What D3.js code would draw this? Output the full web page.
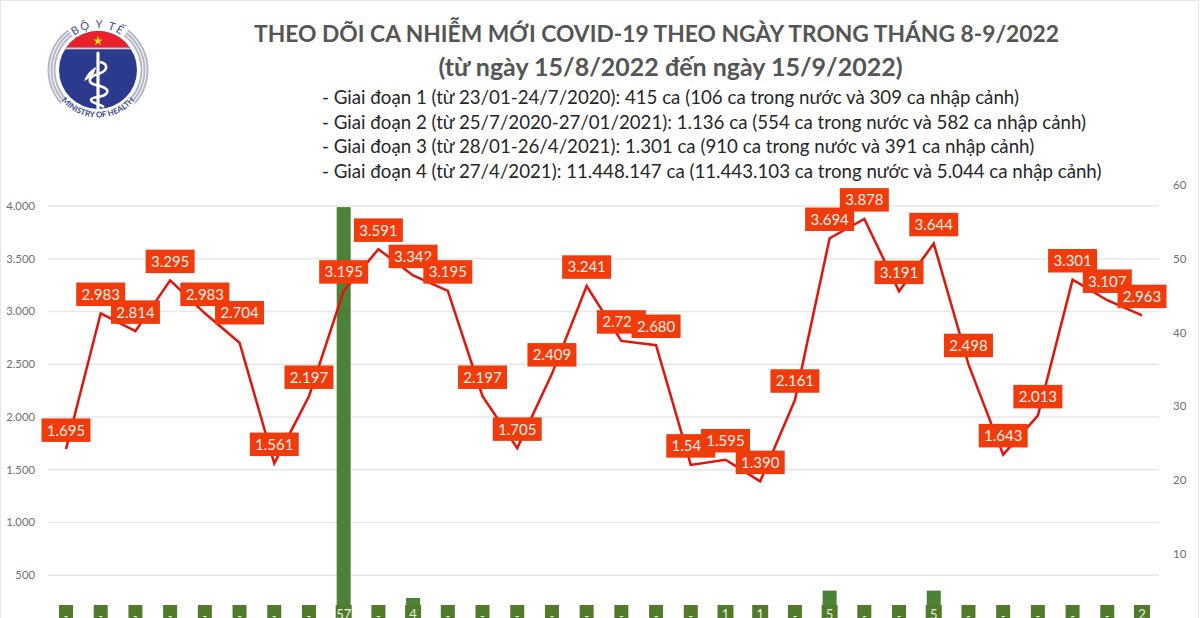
<!DOCTYPE html>
<html lang="vi">
<head>
<meta charset="utf-8">
<title>Ca nhiễm mới COVID-19 theo ngày</title>
<script src="https://cdnjs.cloudflare.com/ajax/libs/d3/7.8.5/d3.min.js"></script>
<style>
  html, body { margin: 0; padding: 0; background: #fff; }
  svg { display: block; font-family: Lato, "Noto Sans", sans-serif; }
</style>
</head>
<body>
<svg id="chart" width="1200" height="618"></svg>
<script>
// Daily figures, 15/8/2022 to 15/9/2022
const dayLabels = ["15/8","16/8","17/8","18/8","19/8","20/8","21/8","22/8","23/8","24/8","25/8","26/8","27/8","28/8","29/8","30/8","31/8","1/9","2/9","3/9","4/9","5/9","6/9","7/9","8/9","9/9","10/9","11/9","12/9","13/9","14/9","15/9"];
const domesticCases = [1695,2983,2814,3295,2983,2704,1561,2197,3195,3591,3342,3195,2197,1705,2409,3241,2721,2680,1546,1595,1390,2161,3694,3878,3191,3644,2498,1643,2013,3301,3107,2963];
const importedCases = [0,0,0,0,0,0,0,0,57,0,4,0,0,0,0,0,0,0,0,1,1,0,5,0,0,5,0,0,0,0,0,2];
const leftTicks = [500,1000,1500,2000,2500,3000,3500,4000];
const rightTicks = [10,20,30,40,50,60];
const titleLines = ["THEO DÕI CA NHIỄM MỚI COVID-19 THEO NGÀY TRONG THÁNG 8-9/2022","(từ ngày 15/8/2022 đến ngày 15/9/2022)"];
const periodLines = [
  "- Giai đoạn 1 (từ 23/01-24/7/2020): 415 ca (106 ca trong nước và 309 ca nhập cảnh)",
  "- Giai đoạn 2 (từ 25/7/2020-27/01/2021): 1.136 ca (554 ca trong nước và 582 ca nhập cảnh)",
  "- Giai đoạn 3 (từ 28/01-26/4/2021): 1.301 ca (910 ca trong nước và 391 ca nhập cảnh)",
  "- Giai đoạn 4 (từ 27/4/2021): 11.448.147 ca (11.443.103 ca trong nước và 5.044 ca nhập cảnh)"
];

const svg = d3.select("#chart");
const dotted = n => d3.format(",")(n).replace(/,/g, ".");

const x = d3.scalePoint().domain(dayLabels).range([66, 1142]);
const yLeft = d3.scaleLinear().domain([0, 4000]).range([628, 206]);
const yRight = d3.scaleLinear().domain([0, 60]).range([627.5, 185]);

// Thin frame along the top and side edges
svg.append("path").attr("d", "M0.5,618V0.5H1198.5V618").attr("fill", "none").attr("stroke", "#e6e6e6");

// Ministry emblem
const emblem = svg.append("g").attr("transform", "translate(98,70)");
const deg = Math.PI / 180;
const sideArc = d3.arc();
[-1, 1].forEach(side => {
  [42.5, 45.5, 48.5].forEach(r => {
    const a0 = side > 0 ? 37 * deg : -132 * deg;
    const a1 = side > 0 ? 132 * deg : -37 * deg;
    emblem.append("path")
      .attr("d", sideArc({ innerRadius: r, outerRadius: r + 2, startAngle: a0, endAngle: a1 }))
      .attr("fill", "#b4b6c6");
  });
});
const defs = svg.append("defs");
defs.append("clipPath").attr("id", "emblem-disc")
  .append("circle").attr("r", 39);
const disc = emblem.append("g").attr("clip-path", "url(#emblem-disc)");
disc.append("rect").attr("x", -40).attr("y", -40).attr("width", 80).attr("height", 80).attr("fill", "#2c3a8e");
disc.append("rect").attr("x", -40).attr("y", -40).attr("width", 80).attr("height", 17.5).attr("fill", "#e8212b");
disc.append("rect").attr("x", -40).attr("y", -22.5).attr("width", 80).attr("height", 1.8).attr("fill", "#e9c9d0");
emblem.append("path")
  .attr("transform", "translate(0,-29)")
  .attr("d", d3.symbol(d3.symbolStar, 30)())
  .attr("fill", "#ffd61f");
// Staff, serpent and leaf
emblem.append("line").attr("x1", 0).attr("x2", 0).attr("y1", -17).attr("y2", 38)
  .attr("stroke", "#fff").attr("stroke-width", 3.2).attr("stroke-linecap", "round");
emblem.append("path")
  .attr("d", "M2,-8C11,-6 10,1 0,4C-10,7 -11,13 -2,15C7,17 12,20 8,24C4,28 -7,26 -7,30C-7,33 2,34 6,37")
  .attr("fill", "none").attr("stroke", "#fff").attr("stroke-width", 2.6);
emblem.append("path")
  .attr("d", "M-2,-3C-6,-1 -11,3 -14,11C-7,8 -3,4 -2,-3Z")
  .attr("fill", "#fff");
defs.append("path").attr("id", "emblem-top")
  .attr("d", "M-42,0A42,42 0 0 1 42,0");
defs.append("path").attr("id", "emblem-bottom")
  .attr("d", "M-47.5,0A47.5,47.5 0 0 0 47.5,0");
emblem.append("text").attr("font-size", 11).attr("fill", "#3a4a8c").attr("letter-spacing", 1.6)
  .append("textPath").attr("href", "#emblem-top").attr("startOffset", "50%").attr("text-anchor", "middle")
  .text("BỘ Y TẾ");
emblem.append("text").attr("font-size", 8).attr("font-weight", 700).attr("fill", "#3a4a8c")
  .append("textPath").attr("href", "#emblem-bottom").attr("startOffset", "50%").attr("text-anchor", "middle")
  .text("MINISTRY OF HEALTH");

// Horizontal gridlines and both value axes
svg.append("g").selectAll("line").data(leftTicks).join("line")
  .attr("x1", 48).attr("x2", 1159)
  .attr("y1", d => yLeft(d)).attr("y2", d => yLeft(d))
  .attr("stroke", "#e8e8e8").attr("stroke-width", 1.5);

svg.append("g").selectAll("text").data(leftTicks).join("text")
  .attr("x", 35).attr("y", d => yLeft(d)).attr("dy", "0.35em")
  .attr("text-anchor", "end").attr("font-size", 11.3).attr("fill", "#6f6f6f")
  .text(dotted);

svg.append("g").selectAll("text").data(rightTicks).join("text")
  .attr("x", 1173).attr("y", d => yRight(d)).attr("dy", "0.35em")
  .attr("font-size", 11.5).attr("fill", "#6f6f6f")
  .text(d => d);

// Imported cases on the right-hand scale
const barWidth = 14;
svg.append("g").selectAll("rect").data(importedCases).join("rect")
  .attr("x", (d, i) => x(dayLabels[i]) - barWidth / 2)
  .attr("y", d => yRight(d))
  .attr("width", barWidth)
  .attr("height", d => yRight(0) - yRight(d))
  .attr("fill", "#4c8237");

// Domestic cases on the left-hand scale
const line = d3.line().x((d, i) => x(dayLabels[i])).y(d => yLeft(d));
svg.append("path").datum(domesticCases)
  .attr("d", line).attr("fill", "none")
  .attr("stroke", "#e4140b").attr("stroke-width", 2.5).attr("stroke-linejoin", "miter");

// Boxed value labels for the imported series, anchored to the axis baseline
const importLabels = svg.append("g").selectAll("g").data(importedCases).join("g")
  .attr("transform", (d, i) => `translate(${x(dayLabels[i])},${yRight(0)})`);
importLabels.append("rect")
  .attr("x", d => d > 0 ? -8 : -7).attr("y", -22.5)
  .attr("width", d => d > 0 ? 16 : 14).attr("height", 23)
  .attr("fill", "#527a2b");
importLabels.append("text")
  .attr("y", d => d > 0 ? -9 : -7).attr("text-anchor", "middle")
  .attr("font-size", 13).attr("fill", "#e8efe2")
  .text(d => d === 0 ? "-" : d);

// Boxed value labels for the domestic series; later days sit on top of earlier ones
const labelLift = dayLabels.map((d, i) => i === 5 ? 30 : 19);
const boxW = 49, boxH = 23.5;
const caseLabels = svg.append("g").selectAll("g").data(domesticCases).join("g")
  .attr("transform", (d, i) => `translate(${x(dayLabels[i])},${yLeft(d) - labelLift[i]})`);
caseLabels.append("rect")
  .attr("x", -boxW / 2).attr("y", -boxH / 2)
  .attr("width", boxW).attr("height", boxH)
  .attr("fill", "#f03c0c");
caseLabels.append("text")
  .attr("dy", "0.36em").attr("text-anchor", "middle")
  .attr("font-size", 15).attr("fill", "#fdeee6")
  .text(dotted);

// Heading block
svg.append("g").selectAll("text").data(titleLines).join("text")
  .attr("x", (d, i) => i === 0 ? 656.5 : 670.5)
  .attr("y", (d, i) => i === 0 ? 41.5 : 75.5)
  .attr("text-anchor", "middle").attr("font-size", (d, i) => i === 0 ? 22.8 : 25).attr("font-weight", 700)
  .attr("fill", "#555")
  .text(d => d);

svg.append("g").selectAll("text").data(periodLines).join("text")
  .attr("x", 322).attr("y", (d, i) => 104 + i * 24.7)
  .attr("font-size", 18.7).attr("fill", "#262626")
  .text(d => d);
</script>
</body>
</html>
